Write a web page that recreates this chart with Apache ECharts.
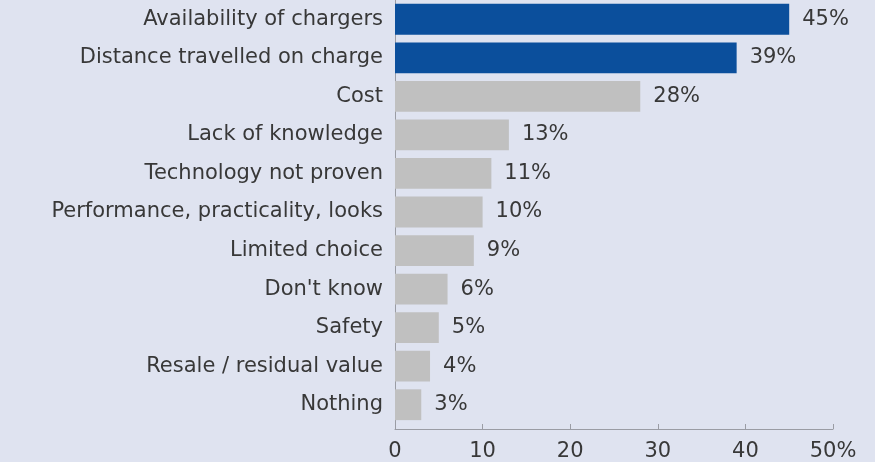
<!DOCTYPE html>
<html><head><meta charset="utf-8">
<script src="https://cdn.jsdelivr.net/npm/echarts@6/dist/echarts.min.js"></script>
<style>html,body{margin:0;padding:0;background:#dfe3f0;}#c{width:875px;height:462px;}</style>
</head><body><div id="c"></div>
<script>
const categories = ["Availability of chargers","Distance travelled on charge","Cost","Lack of knowledge","Technology not proven","Performance, practicality, looks","Limited choice","Don't know","Safety","Resale / residual value","Nothing"];
const values = [45,39,28,13,11,10,9,6,5,4,3];
const highlighted = [true,true,false,false,false,false,false,false,false,false,false];
const tickLabels = {0:"0",10:"10",20:"20",30:"30",40:"40",50:"50%"};

const FONT = 'DejaVu Sans, Verdana, sans-serif';
const chart = echarts.init(document.getElementById('c'), null, {renderer:'canvas'});
chart.setOption({
  backgroundColor:'#dfe3f0',
  animation:false,
  grid:{left:395, width:438, top:0, height:425},
  xAxis:{type:'value', min:0, max:50, interval:10, offset:5,
    axisLine:{show:true, lineStyle:{color:'#9a9ca4', width:1}},
    axisTick:{show:true, inside:true, length:5, lineStyle:{color:'#9a9ca4'}},
    splitLine:{show:false},
    axisLabel:{color:'#383838', fontSize:21, fontFamily:FONT, margin:12,
      formatter:v=>tickLabels[v]}},
  yAxis:{type:'category', data:categories, inverse:true,
    axisLine:{show:true, lineStyle:{color:'#9a9ca4', width:1}},
    axisTick:{show:false},
    axisLabel:{color:'#383838', fontSize:21, fontFamily:FONT, margin:12}},
  series:[{type:'bar', barCategoryGap:'20%',
    data: values.map((v,i)=>({value:v, itemStyle:{color: highlighted[i] ? '#0b4f9c' : '#c0c0c0'}})),
    label:{show:true, position:'right', distance:13, color:'#383838', fontSize:21,
      fontFamily:FONT, formatter:'{c}%'}}]
});
</script></body></html>
